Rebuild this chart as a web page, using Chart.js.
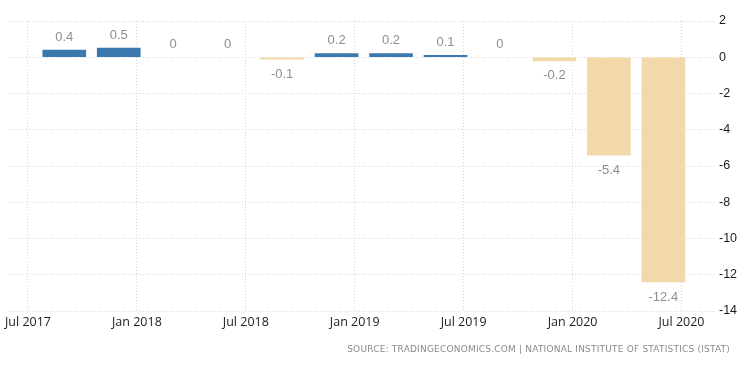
<!DOCTYPE html>
<html>
<head>
<meta charset="utf-8">
<script src="https://cdn.jsdelivr.net/npm/chart.js@4.4.0/dist/chart.umd.min.js"></script>
<style>
  body { margin: 0; background: #fff; }
  #wrap { position: relative; width: 750px; height: 373px; }
  #source {
    position: absolute; right: 20px; top: 344px;
    font: 9px "DejaVu Sans", sans-serif; color: #8a8a8a; letter-spacing: 0.2px;
    white-space: nowrap;
  }
</style>
</head>
<body>
<div id="wrap">
  <canvas id="gdpChart"></canvas>
  <div id="source">SOURCE: TRADINGECONOMICS.COM | NATIONAL INSTITUTE OF STATISTICS (ISTAT)</div>
</div>
<script>
// quarters Q3 2017 .. Q2 2020, x = months since Jul 2017
const quarters = ["2017Q3","2017Q4","2018Q1","2018Q2","2018Q3","2018Q4","2019Q1","2019Q2","2019Q3","2019Q4","2020Q1","2020Q2"];
const monthPos = [2, 5, 8, 11, 14, 17, 20, 23, 26, 29, 32, 35];
const growth = [0.4, 0.5, 0, 0, -0.1, 0.2, 0.2, 0.1, 0, -0.2, -5.4, -12.4];
const tickMonths = [0, 6, 12, 18, 24, 30, 36];
const tickLabels = ["Jul 2017","Jan 2018","Jul 2018","Jan 2019","Jul 2019","Jan 2020","Jul 2020"];

const blue = "#3b78ad";
const beige = "#f3d9a9";

const valueLabels = {
  id: "valueLabels",
  afterDatasetsDraw(chart) {
    const ctx = chart.ctx;
    const meta = chart.getDatasetMeta(0);
    ctx.save();
    ctx.font = "13px 'Liberation Sans', Arial, sans-serif";
    ctx.fillStyle = "#8e8e8e";
    ctx.textAlign = "center";
    ctx.textBaseline = "middle";
    meta.data.forEach((bar, i) => {
      const v = growth[i];
      const y = v >= 0 ? bar.y - 13 : bar.y + 15;
      ctx.fillText(String(v), bar.x, y);
    });
    ctx.restore();
  }
};

const ctx = document.getElementById("gdpChart").getContext("2d");

new Chart(ctx, {
  type: "bar",
  data: {
    labels: quarters,
    datasets: [{
      data: growth.map((v, i) => ({ x: monthPos[i], y: v })),
      backgroundColor: growth.map(v => v > 0 ? blue : (v < 0 ? beige : "rgba(0,0,0,0)")),
      barThickness: 43,
      borderWidth: 0
    }]
  },
  options: {
    responsive: true,
    maintainAspectRatio: false,
    animation: false,
    layout: { padding: { left: 8, top: 21, right: 0, bottom: 22 } },
    plugins: { legend: { display: false }, tooltip: { enabled: false } },
    scales: {
      x: {
        type: "linear",
        offset: false,
        min: -1.1,
        max: 37.9,
        afterBuildTicks: s => { s.ticks = tickMonths.map(v => ({ value: v })); },
        afterFit: s => { s.height = 40; },
        ticks: {
          autoSkip: false,
          maxRotation: 0,
          padding: 4,
          color: "#222",
          font: { family: "'Open Sans', sans-serif", size: 12.5 },
          callback: (v) => tickLabels[tickMonths.indexOf(v)]
        },
        grid: { color: "#d6d6d6", offset: false, drawTicks: false },
        border: { display: false, dash: [1, 2] }
      },
      y: {
        position: "right",
        min: -14,
        max: 2,
        afterFit: s => { s.width = 34; },
        ticks: {
          stepSize: 2,
          padding: 3,
          color: "#1a1a1a",
          font: { family: "'Liberation Sans', Arial, sans-serif", size: 12.5 }
        },
        grid: { color: "#d6d6d6", drawTicks: false },
        border: { display: false, dash: [1, 2] }
      }
    }
  },
  plugins: [valueLabels]
});
</script>
</body>
</html>
